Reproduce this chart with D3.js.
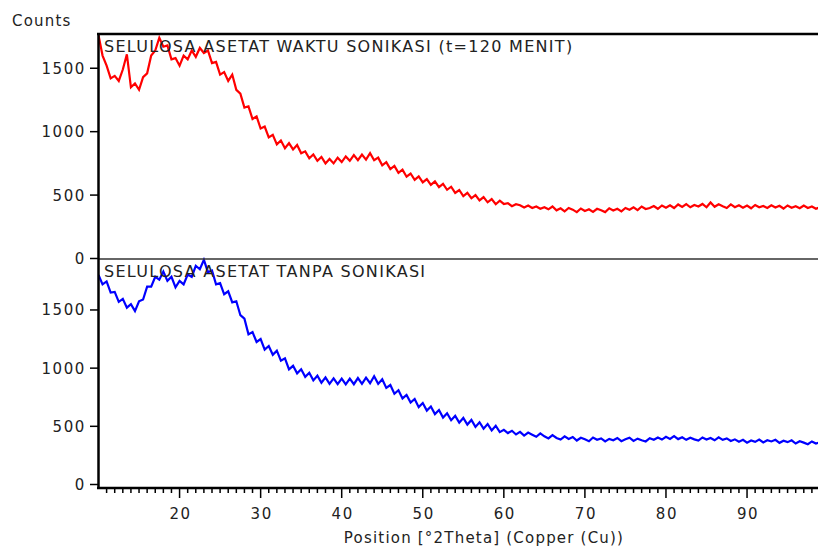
<!DOCTYPE html>
<html>
<head>
<meta charset="utf-8">
<script src="https://cdn.jsdelivr.net/npm/d3@7"></script>
<style>
  body { margin: 0; background: #fff; }
  svg text { font-family: "DejaVu Sans", Verdana, sans-serif; fill: #222; }
</style>
</head>
<body>
<div id="chart"></div>
<script>
// scan grid, degrees 2Theta
var thetaStart = 10, thetaStep = 0.5;

// counts, one value per 0.5 degree from 10 to 99
var countsSonic = [
  1760,1600,1520,1420,1440,1400,1490,1610,1350,1380,1330,1430,1460,1600,1640,1740,
  1670,1680,1570,1580,1520,1600,1570,1640,1590,1660,1620,1640,1540,1550,1450,1470,
  1400,1450,1330,1300,1190,1200,1100,1120,1025,1040,955,975,900,930,870,910,
  860,895,830,845,790,820,770,800,750,785,750,795,760,805,770,815,
  775,820,780,830,775,795,735,760,705,730,675,700,645,670,620,648,
  600,626,580,608,562,588,542,566,517,540,492,518,475,500,458,484,
  443,468,428,456,
  430,436,412,428,420,402,418,398,410,392,404,388,410,380,396,372,
  398,385,366,394,375,388,368,392,380,366,396,378,392,372,398,384,
  404,382,410,390,398,414,392,418,400,420,398,426,406,428,404,422,
  410,430,404,442,408,428,412,398,426,404,420,400,418,396,422,404,
  414,398,420,402,416,394,418,400,412,396,418,398,410,392,404
];
var countsNoSonic = [
  1800,1720,1745,1650,1655,1570,1595,1520,1550,1490,1575,1590,1700,1700,1785,1760,
  1830,1750,1785,1695,1750,1720,1805,1785,1880,1850,1930,1825,1840,1720,1730,1635,
  1660,1565,1575,1455,1425,1290,1310,1225,1250,1160,1190,1115,1150,1065,1085,990,
  1020,955,990,925,960,895,935,875,920,865,912,862,910,860,910,862,
  915,865,918,870,930,865,905,830,855,780,810,740,770,705,735,665,
  700,635,670,605,640,575,612,552,590,532,572,515,555,495,535,480,
  520,465,505,450,
  470,442,462,430,452,420,446,428,410,440,414,396,424,400,386,414,
  392,408,378,402,388,372,404,384,396,370,392,380,400,372,388,402,
  374,394,380,370,398,384,404,386,410,392,416,390,406,384,402,388,
  378,404,386,400,380,406,384,396,374,388,368,384,360,378,366,386,
  362,380,370,384,358,376,364,380,352,372,360,346,370,352,362
];

var panelLabels = ['SELULOSA ASETAT WAKTU SONIKASI (t=120 MENIT)', 'SELULOSA ASETAT TANPA SONIKASI'];
var yTickValues = [0, 500, 1000, 1500];
var xTickValues = [20, 30, 40, 50, 60, 70, 80, 90];

var width = 818, height = 550;
var svg = d3.select('#chart').append('svg')
    .attr('width', width)
    .attr('height', height);

var x = d3.scaleLinear().domain([10, 99]).range([98.5, 820]);

var panels = [
  {data: countsSonic,   color: '#ff0000', label: panelLabels[0],
   y: d3.scaleLinear().domain([0, 1770]).range([258.5, 34]), top: 34},
  {data: countsNoSonic, color: '#0000ff', label: panelLabels[1],
   y: d3.scaleLinear().domain([0, 1938]).range([484.5, 259]), top: 259}
];

svg.append('clipPath').attr('id', 'plotclip')
  .append('rect')
    .attr('x', 99).attr('y', 34)
    .attr('width', width - 99).attr('height', 454);

panels.forEach(function(p) {
  var line = d3.line()
      .x(function(d, i) { return x(thetaStart + i * thetaStep); })
      .y(function(d) { return p.y(d); });

  svg.append('path')
      .datum(p.data)
      .attr('d', line)
      .attr('clip-path', 'url(#plotclip)')
      .style('fill', 'none')
      .style('stroke', p.color)
      .style('stroke-width', 2.2);

  // y ticks
  var yAxis = svg.append('g');
  yTickValues.forEach(function(v) {
    yAxis.append('line')
        .attr('x1', 90).attr('x2', 98)
        .attr('y1', p.y(v)).attr('y2', p.y(v))
        .style('stroke', '#000').style('stroke-width', 1.5);
    yAxis.append('text')
        .attr('x', 86)
        .attr('y', p.y(v) + 5.5)
        .attr('text-anchor', 'end')
        .style('font-size', '15px')
        .style('letter-spacing', '1.6px')
        .text(v);
  });

  svg.append('text')
      .attr('x', 104)
      .attr('y', p.top + 18)
      .style('font-size', '16px')
      .style('letter-spacing', '1.3px')
      .text(p.label);
});

// frame: top border, separator, left axis
svg.append('line')
    .attr('x1', 97).attr('x2', width).attr('y1', 34).attr('y2', 34)
    .style('stroke', '#000').style('stroke-width', 2.5);
svg.append('line')
    .attr('x1', 98).attr('x2', width).attr('y1', 259).attr('y2', 259)
    .style('stroke', '#333').style('stroke-width', 1.5);
svg.append('line')
    .attr('x1', 98.5).attr('x2', 98.5).attr('y1', 33).attr('y2', 488)
    .style('stroke', '#000').style('stroke-width', 2.5);

// x axis
var axisY = 488;
svg.append('line')
    .attr('x1', 97).attr('x2', width).attr('y1', axisY).attr('y2', axisY)
    .style('stroke', '#000').style('stroke-width', 2.5);
var xAxis = svg.append('g');
d3.range(11, 100).forEach(function(v) {
  var major = v % 10 === 0;
  xAxis.append('line')
      .attr('x1', x(v)).attr('x2', x(v))
      .attr('y1', axisY).attr('y2', axisY + (major ? 10 : 5))
      .style('stroke', '#000').style('stroke-width', 1.5);
});
xTickValues.forEach(function(v) {
  xAxis.append('text')
      .attr('x', x(v) + 1)
      .attr('y', 519)
      .attr('text-anchor', 'middle')
      .style('font-size', '15px')
      .style('letter-spacing', '1.6px')
      .text(v);
});

svg.append('text')
    .attr('x', 484)
    .attr('y', 543)
    .attr('text-anchor', 'middle')
    .style('font-size', '15px')
    .style('letter-spacing', '1.2px')
    .text('Position [°2Theta] (Copper (Cu))');

svg.append('text')
    .attr('x', 12)
    .attr('y', 26)
    .style('font-size', '15px')
    .style('letter-spacing', '1.2px')
    .text('Counts');
</script>
</body>
</html>
